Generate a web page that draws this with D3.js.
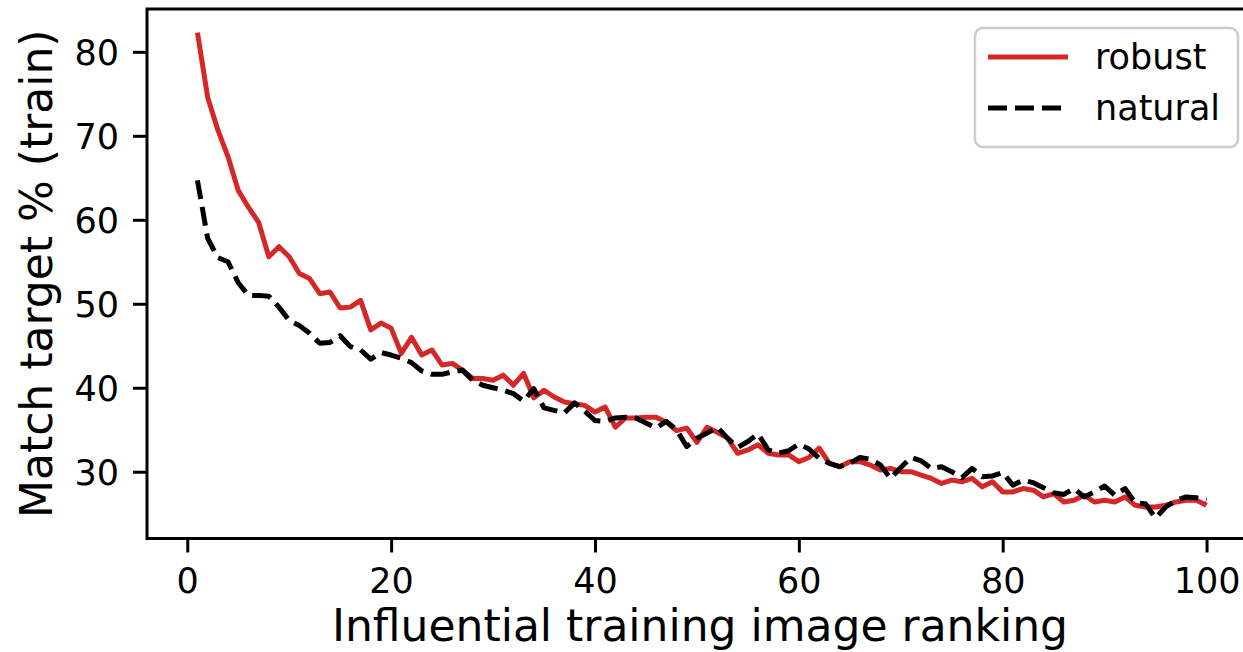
<!DOCTYPE html>
<html>
<head>
<meta charset="utf-8">
<script src="https://cdn.jsdelivr.net/npm/d3@7"></script>
<style>
  body { margin: 0; background: #fff; }
  text { font-family: "DejaVu Sans", sans-serif; fill: #000; }
</style>
</head>
<body>
<svg id="chart"></svg>
<script>
// données
const ranking = d3.range(1, 101);
const robust = [
  82.3, 74.6, 70.7, 67.5, 63.5, 61.5, 59.7, 55.6, 56.8, 55.6,
  53.6, 53.0, 51.2, 51.4, 49.5, 49.6, 50.4, 46.9, 47.7, 47.1,
  44.1, 46.0, 43.9, 44.5, 42.7, 42.9, 42.1, 41.1, 41.1, 40.9,
  41.5, 40.3, 41.7, 38.8, 39.7, 38.9, 38.3, 38.1, 37.9, 37.1,
  37.7, 35.3, 36.4, 36.4, 36.5, 36.5, 35.9, 34.9, 35.2, 33.5,
  35.3, 34.7, 34.0, 32.2, 32.6, 33.2, 32.2, 32.0, 32.0, 31.2,
  31.7, 32.8, 31.0, 30.6, 31.2, 31.2, 30.8, 30.2, 30.4, 30.0,
  30.0, 29.6, 29.2, 28.6, 29.0, 28.8, 29.2, 28.2, 28.8, 27.6,
  27.6, 28.0, 27.8, 27.0, 27.4, 26.4, 26.6, 27.2, 26.4, 26.6,
  26.4, 27.0, 26.0, 25.8, 25.8, 26.0, 26.4, 26.6, 26.6, 26.0
];
const natural = [
  64.7, 57.8, 55.5, 55.0, 52.5, 51.0, 51.0, 50.9, 49.6, 48.0,
  47.4, 46.5, 45.3, 45.4, 46.2, 44.9, 44.5, 43.4, 44.2, 43.9,
  43.5, 43.0, 42.0, 41.6, 41.6, 41.9, 42.1, 40.9, 40.3, 40.0,
  39.7, 39.3, 38.4, 39.9, 37.6, 37.3, 37.0, 38.2, 37.2, 36.1,
  36.0, 36.4, 36.5, 36.4, 35.8, 35.2, 36.0, 35.0, 33.0, 34.0,
  34.6, 35.3, 34.0, 32.9, 33.6, 34.5, 32.6, 32.2, 32.5, 33.3,
  32.7, 31.6, 31.0, 30.6, 31.0, 31.7, 31.5, 30.8, 29.2, 30.5,
  31.7, 31.3, 30.4, 30.6, 30.0, 29.3, 30.4, 29.4, 29.5, 29.9,
  28.4, 29.0, 28.7, 28.1, 27.5, 27.3, 28.0, 27.0, 27.6, 28.3,
  27.2, 28.0, 26.3, 26.2, 24.5, 25.8, 26.6, 27.0, 26.9, 26.6
];
const xTicks = [0, 20, 40, 60, 80, 100];
const yTicks = [30, 40, 50, 60, 70, 80];
const seriesNames = ["robust", "natural"];

const width = 1243, height = 652;
const plot = {left: 147, right: 1257, top: 9, bottom: 538.5};

const svg = d3.select("#chart")
  .attr("width", width)
  .attr("height", height);

const x = d3.scaleLinear().domain([-3.95, 104.95]).range([plot.left, plot.right]);
const y = d3.scaleLinear().domain([22.05, 85.1]).range([plot.bottom, plot.top]);

const line = d3.line()
  .x((d, i) => x(ranking[i]))
  .y(d => y(d));

// courbes
svg.append("path")
  .datum(robust)
  .attr("d", line)
  .attr("fill", "none")
  .attr("stroke", "#d62728")
  .attr("stroke-width", 5)
  .attr("stroke-linejoin", "round");

svg.append("path")
  .datum(natural)
  .attr("d", line)
  .attr("fill", "none")
  .attr("stroke", "#000")
  .attr("stroke-width", 5)
  .attr("stroke-dasharray", "19,8")
  .attr("stroke-linejoin", "round");

// axes
const xAxis = svg.append("g")
  .attr("transform", `translate(0,${plot.bottom})`)
  .call(d3.axisBottom(x).tickValues(xTicks).tickSize(14).tickPadding(14));
const yAxis = svg.append("g")
  .attr("transform", `translate(${plot.left},0)`)
  .call(d3.axisLeft(y).tickValues(yTicks).tickSize(14).tickPadding(14));

[xAxis, yAxis].forEach(g => {
  g.select(".domain").remove();
  g.selectAll("line").attr("stroke", "#000").attr("stroke-width", 3);
  g.selectAll("text").attr("font-size", 35).attr("font-family", "DejaVu Sans");
});
xAxis.selectAll("text").attr("dy", null).attr("y", 54);
yAxis.selectAll("text").attr("dy", "0.36em");

// cadre
svg.append("rect")
  .attr("x", plot.left)
  .attr("y", plot.top)
  .attr("width", plot.right - plot.left)
  .attr("height", plot.bottom - plot.top)
  .attr("fill", "none")
  .attr("stroke", "#000")
  .attr("stroke-width", 3);

// titres des axes
svg.append("text")
  .attr("x", 700)
  .attr("y", 641)
  .attr("text-anchor", "middle")
  .attr("font-size", 44)
  .text("Influential training image ranking");

svg.append("text")
  .attr("transform", `translate(52,${(plot.top + plot.bottom) / 2}) rotate(-90)`)
  .attr("text-anchor", "middle")
  .attr("font-size", 44)
  .text("Match target % (train)");

// légende
const legend = svg.append("g");
legend.append("rect")
  .attr("x", 975).attr("y", 28)
  .attr("width", 263).attr("height", 119)
  .attr("rx", 8)
  .attr("fill", "#fff")
  .attr("stroke", "#cccccc")
  .attr("stroke-width", 2.5);

const legendStyles = [
  {stroke: "#d62728", dash: null},
  {stroke: "#000", dash: "19,8"}
];
seriesNames.forEach((name, i) => {
  const ly = 57 + i * 51;
  legend.append("line")
    .attr("x1", 988).attr("x2", 1068)
    .attr("y1", ly).attr("y2", ly)
    .attr("stroke", legendStyles[i].stroke)
    .attr("stroke-width", 5)
    .attr("stroke-dasharray", legendStyles[i].dash);
  legend.append("text")
    .attr("x", 1095)
    .attr("y", ly + 12)
    .attr("font-size", 35)
    .text(name);
});
</script>
</body>
</html>
